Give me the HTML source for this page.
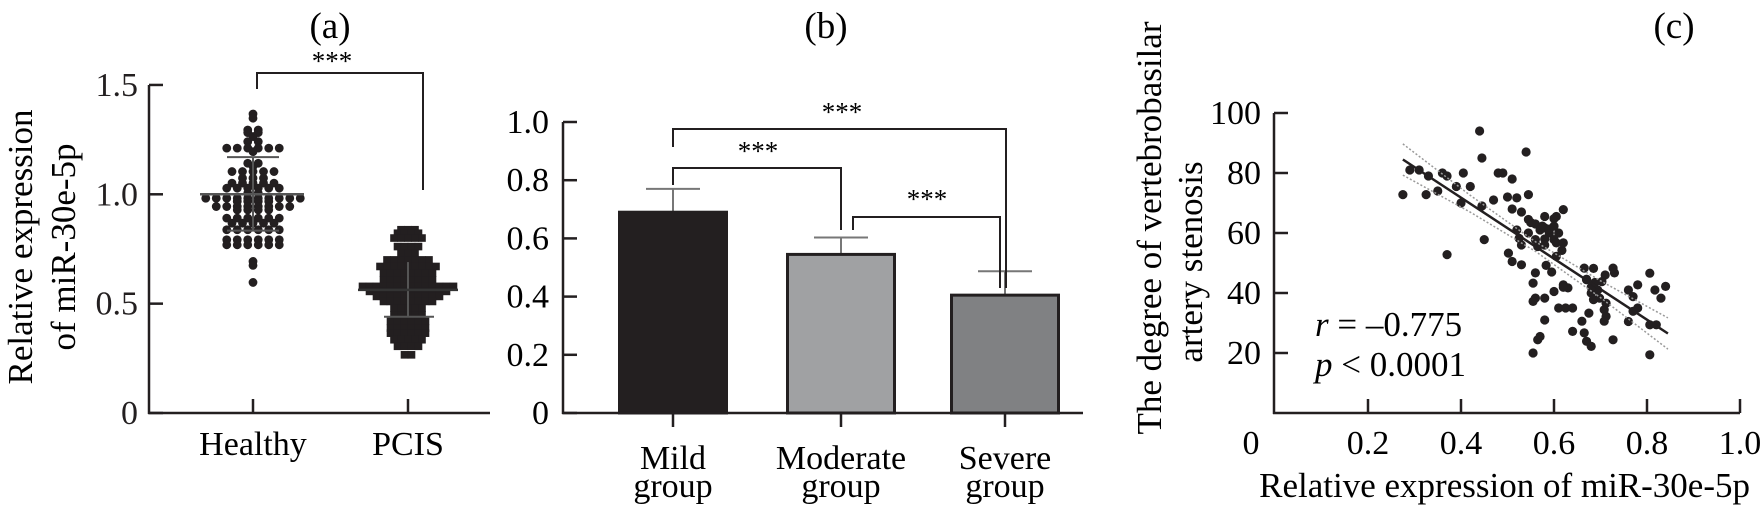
<!DOCTYPE html>
<html><head><meta charset="utf-8"><style>
body{margin:0;background:#fff;}
svg{display:block;font-family:"Liberation Serif",serif;}
</style></head><body>
<svg id="fig" width="1760" height="505" viewBox="0 0 1760 505"></svg>
<script>
// ---- Panel (a) data ----
const healthyRows = [1.367,1.348,1.294,1.282,1.264,1.241,1.211,1.195,1.142,1.127,1.104,1.074,1.051,1.028,1.005,0.982,0.967,0.944,0.929,0.891,0.868,0.838,0.792,0.769,0.693,0.675,0.597];
const healthyCounts = [1,1,2,2,1,2,6,1,2,1,5,3,5,6,2,10,4,8,4,6,5,6,6,6,1,1,1];
const pcisRows = [0.838,0.822,0.80,0.761,0.731,0.70,0.67,0.64,0.609,0.579,0.556,0.533,0.51,0.48,0.449,0.419,0.388,0.365,0.335,0.305,0.266];
const pcisCounts = [3,4,5,4,3,7,9,8,8,14,12,10,8,5,5,6,6,6,5,4,2];
const aStats = {healthyMean:1.0, healthyHi:1.17, healthyLo:0.834, pcisMean:0.563, pcisLo:0.44, pcisHi:0.69};
const aTicks = [0,0.5,1.0,1.5];
const aTickLabels = ["0","0.5","1.0","1.5"];
// ---- Panel (b) data ----
const bCats = [["Mild","group"],["Moderate","group"],["Severe","group"]];
const bVals = [0.69,0.545,0.405];
const bErr = [0.77,0.603,0.487];
const bTicks = [0,0.2,0.4,0.6,0.8,1.0];
const bTickLabels = ["0","0.2","0.4","0.6","0.8","1.0"];
// ---- Panel (c) data ----
const cX = [0.275,0.29,0.31,0.33,0.325,0.35,0.36,0.37,0.37,0.39,0.40,0.405,0.42,0.44,0.445,0.45,0.445,0.47,0.48,0.49,0.51,0.50,0.52,0.54,0.545,0.51,0.53,0.51,0.53,0.52,0.53,0.545,0.56,0.57,0.58,0.59,0.60,0.605,0.56,0.545,0.565,0.605,0.62,0.605,0.595,0.56,0.555,0.56,0.58,0.555,0.60,0.62,0.63,0.58,0.57,0.565,0.555,0.61,0.625,0.64,0.64,0.665,0.67,0.68,0.665,0.67,0.68,0.675,0.685,0.685,0.71,0.727,0.73,0.703,0.694,0.698,0.712,0.708,0.712,0.708,0.727,0.76,0.76,0.77,0.78,0.78,0.77,0.806,0.817,0.83,0.84,0.806,0.82,0.806,0.66,0.68,0.688,0.67,0.62,0.617,0.583,0.502,0.525,0.58,0.58,0.575,0.59,0.60,0.61,0.62,0.55,0.58,0.60];
const cY = [72.8,81,81,79,72.8,74,80,79,52.8,75.5,70,80,75.5,94,85,57.8,69,71,80,80,78,72,71.7,87,72.8,50.5,49.4,68,67,61,56,64.5,63,61,61.7,60,57.8,56.7,57.8,60,55.5,65.5,67.8,52.2,47,46.7,43.3,38.3,38.3,37.2,40.5,42.7,41.7,31,25.5,24.4,20,35,35,35,27.2,26.7,23.9,22.2,48.3,44.4,40,33.3,37.8,48.2,46,48.3,46.7,43.8,41,38.3,36.6,34.4,32.2,30.6,24.4,41,30.5,38.8,42.7,35,33.9,46.6,41,38.3,42.2,29.4,29.4,19.4,30.6,41.9,43.5,44.6,41.9,54.2,49.2,53.3,58.2,58,56,62.3,61.3,62.3,60,56.7,63.5,65.5,64.8];
const fitX = [0.275,0.845];
const fitY = [84.5,26.5];
const ciX = [0.275,0.42,0.56,0.70,0.845];
const ciHalf = [5.2,2.8,1.6,2.8,5.2];
const cYTicks = [20,40,60,80,100];
const cYTickLabels = ["20","40","60","80","100"];
const cXTicks = [0.2,0.4,0.6,0.8,1.0];
const cXTickLabels = ["0.2","0.4","0.6","0.8","1.0"];

const NS="http://www.w3.org/2000/svg";
const svg=document.getElementById('fig');
const FT=34, FA=35, FP=37, FS=27;
function mk(tag,attrs,parent,text){const e=document.createElementNS(NS,tag);for(const k in attrs)e.setAttribute(k,attrs[k]);if(text!==undefined)e.textContent=text;(parent||svg).appendChild(e);return e;}
function line(x1,y1,x2,y2,st,w,p,dash){const e=mk('line',{x1,y1,x2,y2,stroke:st,'stroke-width':w},p);if(dash)e.setAttribute('stroke-dasharray',dash);return e;}

// ===== Panel A =====
const ga=mk('g',{});


const aY=v=>413-v*218.7;
const aX0=149;
line(aX0,aY(1.5),aX0,414,'#231f20',2.5,ga);
line(aX0-1,413,490,413,'#231f20',2.5,ga);
aTicks.forEach((t,i)=>{line(aX0,aY(t),aX0+14,aY(t),'#231f20',2.5,ga);
 const tl=mk('text',{x:138,y:aY(t)+11,'text-anchor':'end','font-size':FT,fill:'#231f20'},ga,aTickLabels[i]);
 
 });
[253,408].forEach(x=>line(x,399,x,413,'#231f20',2.5,ga));
let t=mk('text',{x:253,y:455,'text-anchor':'middle','font-size':FT},ga,'Healthy');

t=mk('text',{x:408,y:455,'text-anchor':'middle','font-size':FT},ga,'PCIS');

t=mk('text',{transform:'translate(32,247) rotate(-90)','text-anchor':'middle','font-size':FA},ga,'Relative expression');

t=mk('text',{transform:'translate(75,247) rotate(-90)','text-anchor':'middle','font-size':FA},ga,'of miR-30e-5p');

t=mk('text',{x:330,y:38,'text-anchor':'middle','font-size':FP},ga,'(a)');

const br=mk('path',{d:'M257 89 V73 H423 V190',fill:'none',stroke:'#231f20','stroke-width':2},ga);

t=mk('text',{x:332,y:70,'text-anchor':'middle','font-size':FS},ga,'***');

healthyRows.forEach((v,i)=>{const n=healthyCounts[i];for(let k=0;k<n;k++){const cx=253+(k-(n-1)/2)*10.5;
 const c=mk('circle',{cx,cy:aY(v),r:4.4,fill:'#231f20'},ga);
 
 }});
pcisRows.forEach((v,i)=>{const n=pcisCounts[i];for(let k=0;k<n;k++){const cx=408+(k-(n-1)/2)*7;
 const r=mk('rect',{x:cx-3.8,y:aY(v)-3.8,width:7.6,height:7.6,fill:'#231f20'},ga);
 
 }});
line(253,aY(aStats.healthyHi),253,aY(aStats.healthyLo),'#555',2,ga);
line(200,aY(aStats.healthyMean),304,aY(aStats.healthyMean),'#555',2.5,ga);
line(227,aY(aStats.healthyHi),279,aY(aStats.healthyHi),'#555',2,ga);
line(227,aY(aStats.healthyLo),279,aY(aStats.healthyLo),'#555',2,ga);
line(408,aY(aStats.pcisHi),408,aY(aStats.pcisLo),'#555',2,ga);
line(358,aY(aStats.pcisMean),458,aY(aStats.pcisMean),'#333',2.5,ga);
line(384,aY(aStats.pcisLo),434,aY(aStats.pcisLo),'#555',2,ga);

// ===== Panel B =====
const gb=mk('g',{});


const bY=v=>413-v*291;
const bX0=563;
const bCenters=[673,841,1005];
const bW=110;
const bFill=['#231f20','#a0a1a3','#808183'];
bVals.forEach((v,i)=>{
 const cx=bCenters[i];
 line(cx,bY(bErr[i]),cx,bY(v),'#777',2,gb);
 line(cx-27,bY(bErr[i]),cx+27,bY(bErr[i]),'#777',2,gb);
 const r=mk('rect',{x:cx-bW/2+1.5,y:bY(v),width:bW-3,height:bY(0)-bY(v),fill:bFill[i],stroke:'#231f20','stroke-width':3},gb);
 
 
 line(cx,413,cx,427,'#231f20',2.5,gb);
 let l=mk('text',{x:cx,y:469,'text-anchor':'middle','font-size':FT},gb,bCats[i][0]);
 
 l=mk('text',{x:cx,y:497,'text-anchor':'middle','font-size':FT},gb,bCats[i][1]);
 
});
line(bX0,bY(1.0),bX0,414,'#231f20',2.5,gb);
line(bX0-1,413,1083,413,'#231f20',2.5,gb);
bTicks.forEach((tk,i)=>{line(bX0,bY(tk),bX0+14,bY(tk),'#231f20',2.5,gb);
 const tl=mk('text',{x:549,y:bY(tk)+11,'text-anchor':'end','font-size':FT},gb,bTickLabels[i]);
 });
t=mk('text',{x:826,y:38,'text-anchor':'middle','font-size':FP},gb,'(b)');

[['M673 147 V129 H1006 V288',842,121],['M673 185 V168 H841 V230',758,160],['M853 230 V217 H1000 V288',927,208]].forEach(b=>{
 const p=mk('path',{d:b[0],fill:'none',stroke:'#231f20','stroke-width':2},gb);
 
 const s=mk('text',{x:b[1],y:b[2],'text-anchor':'middle','font-size':FS},gb,'***');
 
});

// ===== Panel C =====
const gc=mk('g',{});


const cXs=v=>1275+v*465;
const cYs=v=>413-v*3;
line(1274,cYs(100),1274,414,'#231f20',2.5,gc);
line(1273,413,1740,413,'#231f20',2.5,gc);
cYTicks.forEach((tk,i)=>{line(1274,cYs(tk),1288,cYs(tk),'#231f20',2.5,gc);
 const tl=mk('text',{x:1261,y:cYs(tk)+11,'text-anchor':'end','font-size':FT},gc,cYTickLabels[i]);
 });
cXTicks.forEach((tk,i)=>{line(cXs(tk),399,cXs(tk),413,'#231f20',2.5,gc);
 const tl=mk('text',{x:cXs(tk),y:454,'text-anchor':'middle','font-size':FT},gc,cXTickLabels[i]);
 });
t=mk('text',{x:1251,y:454,'text-anchor':'middle','font-size':FT},gc,'0');

t=mk('text',{x:1750,y:497,'text-anchor':'end','font-size':FA},gc,'Relative expression of miR-30e-5p');

t=mk('text',{transform:'translate(1161,228) rotate(-90)','text-anchor':'middle','font-size':FA},gc,'The degree of vertebrobasilar');

t=mk('text',{transform:'translate(1202,262) rotate(-90)','text-anchor':'middle','font-size':FA},gc,'artery stenosis');

t=mk('text',{x:1674,y:38,'text-anchor':'middle','font-size':FP},gc,'(c)');

cX.forEach((x,i)=>{const c=mk('circle',{cx:cXs(x),cy:cYs(cY[i]),r:4.6,fill:'#231f20'},gc);
 
 });
const slope=(fitY[1]-fitY[0])/(fitX[1]-fitX[0]);
const fitAt=x=>fitY[0]+slope*(x-fitX[0]);
let fl=line(cXs(fitX[0]),cYs(fitY[0]),cXs(fitX[1]),cYs(fitY[1]),'#231f20',2.5,gc);

[1,-1].forEach(sg=>{const pts=ciX.map((x,i)=>cXs(x)+','+cYs(fitAt(x)+sg*ciHalf[i])).join(' ');
 const p=mk('polyline',{points:pts,fill:'none',stroke:'#999','stroke-width':1.5,'stroke-dasharray':'2 2'},gc);
 });
t=mk('text',{x:1315,y:336,'font-size':FA},gc);

t.innerHTML='<tspan font-style="italic">r</tspan> = –0.775';
t=mk('text',{x:1315,y:376,'font-size':FA},gc);

t.innerHTML='<tspan font-style="italic">p</tspan> &lt; 0.0001';
</script>
</body></html>
